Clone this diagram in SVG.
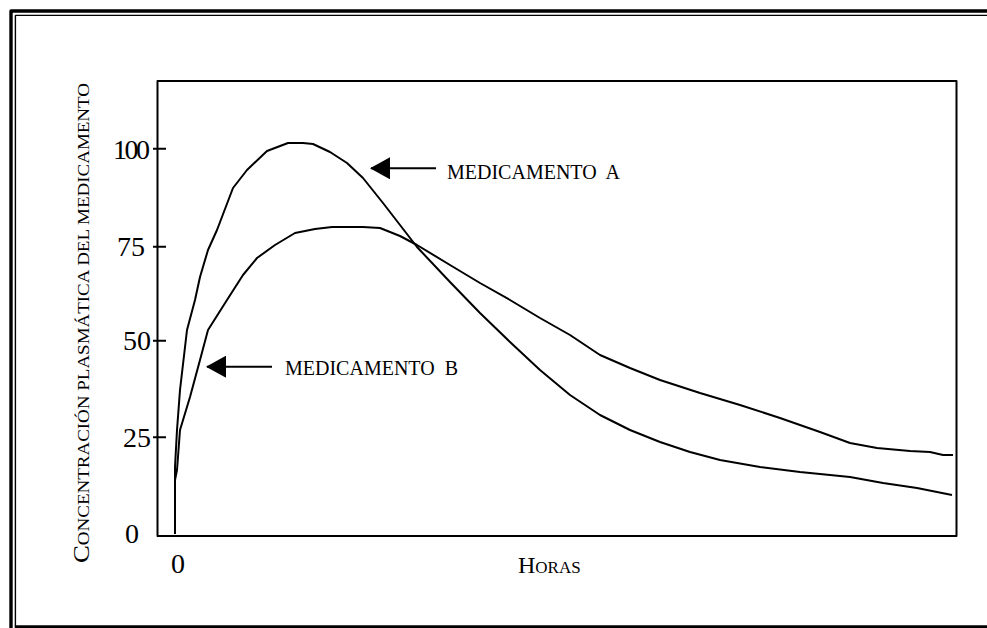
<svg xmlns="http://www.w3.org/2000/svg" width="987" height="628" viewBox="0 0 987 628">
<style>
.ln{fill:none;stroke:#000;stroke-linejoin:round;stroke-linecap:butt}
.t{font-family:"Liberation Serif","Times New Roman",serif;fill:#000}
.num{font-size:28px}
.cv{fill:none;stroke:#000;stroke-width:2;stroke-linejoin:round}
</style>
<defs>
<marker id="ah" viewBox="0 0 20 22" refX="19" refY="11" markerWidth="20" markerHeight="22" markerUnits="userSpaceOnUse" orient="auto">
<path d="M20,11 L0,0 L0,22 Z" fill="#000"/>
</marker>
</defs>
<rect width="987" height="628" fill="#fff"/>
<g id="frame">
<path class="ln" d="M11,628 V11 H987" stroke-width="3.4"/>
<path class="ln" d="M15.4,626 V15.4 H987" stroke-width="1.4"/>
<path class="ln" d="M14.7,626.7 H987" stroke-width="2.7"/>
</g>
<g id="axes">
<rect class="ln" x="157.5" y="81" width="799" height="455" stroke-width="2"/>
<path class="ln" d="M153,148.7 H166 M153,246.7 H166 M153,340.7 H166 M153,437.3 H166" stroke-width="2"/>
<text class="t num" x="113" y="159.3" letter-spacing="-2.5">100</text>
<text class="t num" x="117" y="256">75</text>
<text class="t num" x="123" y="350">50</text>
<text class="t num" x="123" y="446.7">25</text>
<text class="t num" x="125" y="542.7">0</text>
<text class="t num" x="178" y="573" text-anchor="middle">0</text>
<text class="t" x="518" y="572.5"><tspan font-size="24">H</tspan><tspan font-size="17">ORAS</tspan></text>
<text class="t" transform="translate(88.5,563) rotate(-90)" textLength="480" lengthAdjust="spacingAndGlyphs"><tspan font-size="24">C</tspan><tspan font-size="17">ONCENTRACIÓN PLASMÁTICA DEL MEDICAMENTO</tspan></text>
</g>
<g id="curves">
<path id="curveA" class="cv" d="M175,534 L175,467 L177,430 L180,390 L187,330 L195,300 L200,277 L208,250 L217,230 L233,188 L247,170 L267,151 L288,143 L303,143 L313,144 L330,152 L347,163 L363,178 L383,203 L400,225 L417,247 L450,282 L480,313 L510,342 L540,370 L570,395 L600,415 L630,430 L660,442 L690,452 L720,460 L760,467 L800,472 L850,477 L883,483 L917,488 L952,495"/>
<path id="curveB" class="cv" d="M175,480 L177,470 L180,430 L190,397 L200,360 L208,330 L227,300 L243,275 L257,258 L275,245 L295,233 L315,229 L332,227 L363,227 L380,228 L400,236 L417,245 L450,265 L480,283 L510,300 L540,318 L570,335 L600,355 L630,368 L660,380 L700,393 L740,405 L780,418 L820,432 L850,443 L877,448 L910,451 L930,452 L943,455 L953,455"/>
</g>
<g id="labelA">
<path class="ln" d="M436,168.3 H371" stroke-width="2" marker-end="url(#ah)"/>
<text class="t" x="447" y="179.3" font-size="20">MEDICAMENTO&#160; A</text>
</g>
<g id="labelB">
<path class="ln" d="M272,366.7 H207" stroke-width="2" marker-end="url(#ah)"/>
<text class="t" x="285" y="375" font-size="20">MEDICAMENTO&#160; B</text>
</g>
</svg>
